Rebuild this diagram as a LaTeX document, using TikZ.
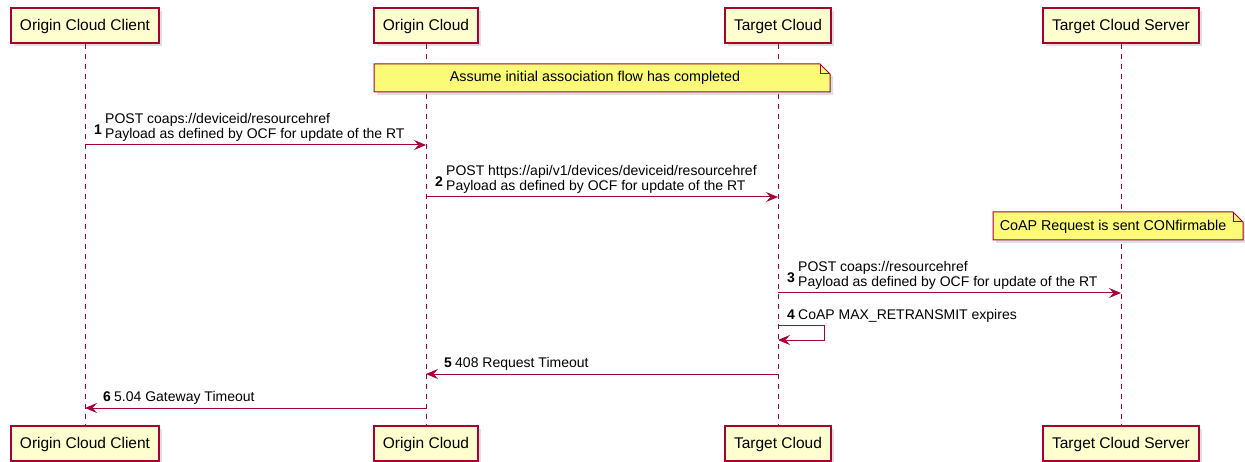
\documentclass[tikz,border=0pt]{standalone}
\usepackage{fontspec}
\setmainfont{Liberation Sans}
\usetikzlibrary{positioning,shadows,arrows.meta}
\definecolor{umlred}{HTML}{A80036}
\definecolor{umlbox}{HTML}{FEFECE}
\definecolor{umlnote}{HTML}{FBFB77}
\begin{document}
\begin{tikzpicture}[x=1pt, y=-1pt,
	part/.style={draw=umlred, fill=umlbox, line width=1.2pt, minimum height=35pt,
		inner xsep=9pt, text height=11pt, text depth=0.5pt,
		font=\fontsize{15.5}{17}\selectfont,
		drop shadow={shadow xshift=3pt, shadow yshift=-3pt, opacity=0.25}},
	life/.style={draw=umlred, line width=1pt, dash pattern=on 5pt off 5pt},
	msg/.style={draw=umlred, line width=1pt,
		-{Stealth[length=12pt, width=10pt, inset=4.5pt]}},
	lbl/.style={inner sep=0pt, align=left, anchor=south west,
		font=\fontsize{14}{15.5}\selectfont},
	num/.style={inner sep=0pt, font=\bfseries\fontsize{14}{15.5}\selectfont},
	notebox/.style={draw=umlred, fill=umlnote, line width=1pt,
		drop shadow={shadow xshift=3pt, shadow yshift=-3pt, opacity=0.25}},
	notetxt/.style={inner sep=0pt, font=\fontsize{14.3}{16}\selectfont}]
	\useasboundingbox (0,0) rectangle (1245,462);

	% Teilnehmer oben und unten, Lebenslinien
	\foreach \name/\x/\txt in {occ/85/Origin Cloud Client, oc/426/Origin Cloud,
		tc/778/Target Cloud, tcs/1121/Target Cloud Server}
	{
		\node[part] (\name-top) at (\x, 25.5) {\txt};
		\node[part] (\name-bot) at (\x, 443.5) {\txt};
		\draw[life] (\name-top) -- (\name-bot);
	}

	% Notiz ueber Origin Cloud / Target Cloud
	\draw[notebox] (374,64) -- (820,64) -- (830,74) -- (830,92) -- (374,92) -- cycle;
	\draw[umlred, line width=1pt] (820,64) -- (820,74) -- (830,74);
	\node[notetxt] (note1) at (595,78) {Assume initial association flow has completed};

	% Nachrichtenhoehen
	\coordinate (m1) at (0,145);
	\coordinate (m2) at (0,197);
	\coordinate (m3) at (0,293);
	\coordinate (m4) at (0,326);
	\coordinate (m4b) at (0,340);
	\coordinate (m5) at (0,374);
	\coordinate (m6) at (0,408);

	% 1
	\draw[msg] (occ-top |- m1) -- (oc-top |- m1);
	\node[lbl] (t1) at (105,142) {POST coaps://deviceid/resourcehref\\Payload as defined by OCF for update of the RT};
	\node[num, above left=7pt and 3pt of t1.south west] (n1) {1};

	% 2
	\draw[msg] (oc-top |- m2) -- (tc-top |- m2);
	\node[lbl] (t2) at (446,194) {POST https://api/v1/devices/deviceid/resourcehref\\Payload as defined by OCF for update of the RT};
	\node[num, above left=7pt and 3pt of t2.south west] (n2) {2};

	% Notiz ueber Target Cloud Server
	\draw[notebox] (993,212) -- (1233,212) -- (1243,222) -- (1243,240) -- (993,240) -- cycle;
	\draw[umlred, line width=1pt] (1233,212) -- (1233,222) -- (1243,222);
	\node[notetxt] (note2) at (1113,227) {CoAP Request is sent CONfirmable};

	% 3
	\draw[msg] (tc-top |- m3) -- (tcs-top |- m3);
	\node[lbl] (t3) at (798,290) {POST coaps://resourcehref\\Payload as defined by OCF for update of the RT};
	\node[num, above left=7pt and 3pt of t3.south west] (n3) {3};

	% 4 (an sich selbst)
	\draw[msg] (tc-top |- m4) -- ++(46,0) -- ++(0,14) -- (tc-top |- m4b);
	\node[lbl] (t4) at (798,323) {CoAP MAX\_RETRANSMIT expires};
	\node[num, above left=3pt and 3pt of t4.south west] (n4) {4};

	% 5
	\draw[msg] (tc-top |- m5) -- (oc-top |- m5);
	\node[lbl] (t5) at (455,371) {408 Request Timeout};
	\node[num, above left=3pt and 3pt of t5.south west] (n5) {5};

	% 6
	\draw[msg] (oc-top |- m6) -- (occ-top |- m6);
	\node[lbl] (t6) at (114,405) {5.04 Gateway Timeout};
	\node[num, above left=3pt and 3pt of t6.south west] (n6) {6};
\end{tikzpicture}
\end{document}
